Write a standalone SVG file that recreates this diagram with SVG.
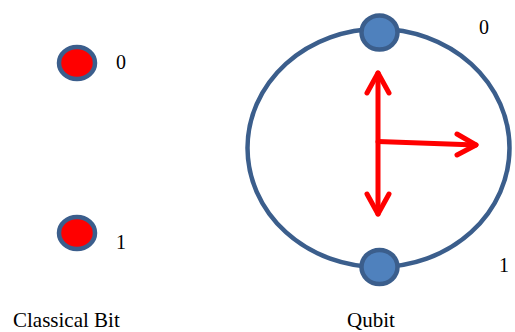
<svg xmlns="http://www.w3.org/2000/svg" width="515" height="332" viewBox="0 0 515 332">
<style>
.bit{fill:#FF0000;stroke:#3B5E8C;stroke-width:4.5}
.state{fill:#4F81BD;stroke:#3B5E8C;stroke-width:4.5}
.sphere{fill:none;stroke:#3B5E8C;stroke-width:4.5}
.arrow{fill:none;stroke:#FF0000;stroke-width:5;stroke-linecap:round;stroke-linejoin:round}
text{font-family:"Liberation Serif","Times New Roman",serif;font-size:20px;fill:#000}
.label{font-size:21px}
</style>
<rect width="515" height="332" fill="#fff"/>
<g id="bit0">
<ellipse class="bit" cx="77" cy="63" rx="18" ry="16"/>
<text x="116" y="69">0</text>
</g>
<g id="bit1">
<ellipse class="bit" cx="77" cy="233" rx="18" ry="16"/>
<text x="116" y="249">1</text>
</g>
<g id="qubit-sphere">
<ellipse class="sphere" cx="378.5" cy="148" rx="131" ry="119"/>
</g>
<g id="state0">
<ellipse class="state" cx="379.5" cy="32.5" rx="18" ry="17"/>
<text x="479" y="34">0</text>
</g>
<g id="state1">
<ellipse class="state" cx="379.5" cy="267" rx="18" ry="17"/>
<text x="499" y="272">1</text>
</g>
<g id="connectors">
<path class="arrow" d="M378,73 L378,214"/>
<path class="arrow" d="M367,93 L378,73 L389,93"/>
<path class="arrow" d="M367,194 L378,214 L389,194"/>
<path class="arrow" d="M378,141.5 L476,145"/>
<path class="arrow" d="M457,134 L476,145 L457,155"/>
</g>
<text class="label" x="13" y="327">Classical Bit</text>
<text class="label" x="347" y="327">Qubit</text>
</svg>
